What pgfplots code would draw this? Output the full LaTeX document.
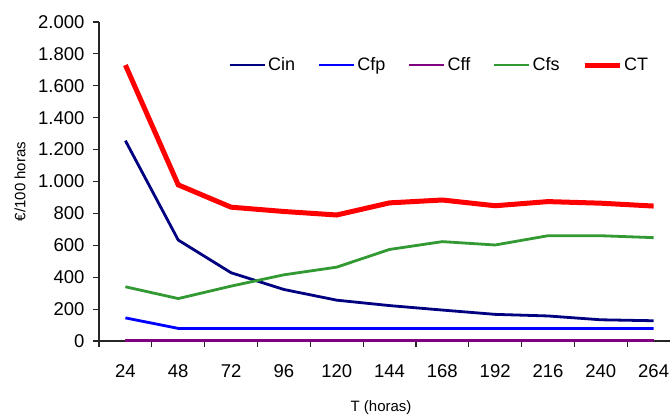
\documentclass[border=0pt]{standalone}
\usepackage{pgfplots}
\pgfplotsset{compat=1.18}
\usepackage{fontspec}
\setmainfont{Liberation Sans}
\definecolor{cin}{RGB}{0,0,128}
\definecolor{cfp}{RGB}{0,0,255}
\definecolor{cff}{RGB}{128,0,128}
\definecolor{cfs}{RGB}{51,153,51}
\definecolor{ct}{RGB}{255,0,0}
\begin{document}
\begin{tikzpicture}
\path[use as bounding box] (-99bp,-77bp) rectangle (571bp,341bp);
\begin{axis}[
  at={(0,0)}, anchor=south west,
  scale only axis, width=571bp, height=319bp,
  xmin=-0.5, xmax=10.31, ymin=0, ymax=2000,
  axis lines*=left,
  axis line style={black!85, line width=1.2bp},
  tick align=outside, major tick length=6bp,
  tick style={black!85, line width=1.2bp},
  xtick={-0.5,0.5,1.5,2.5,3.5,4.5,5.5,6.5,7.5,8.5,9.5},
  xticklabels={24,48,72,96,120,144,168,192,216,240,264},
  xticklabel style={anchor=base, xshift=26.41bp, yshift=-30bp},
  yticklabel style={xshift=-5bp},
  ytick={0,200,...,2000},
  /pgf/number format/assume math mode=true,
  /pgf/number format/1000 sep={.},
  tick label style={font=\fontsize{18.5bp}{21bp}\selectfont},
  xlabel={T (horas)},
  ylabel={€/100 horas},
  label style={font=\fontsize{15bp}{18bp}\selectfont},
  xlabel style={at={(axis description cs:0.494,0)}, anchor=center, yshift=-67bp},
  ylabel style={at={(axis description cs:0,0.5)}, anchor=center, rotate=0, yshift=79bp},
  legend columns=5,
  legend style={draw=none, fill=none, at={(rel axis cs:0.226,0.865)}, anchor=west,
    font=\fontsize{18bp}{21bp}\selectfont, inner sep=0pt,
    /tikz/every even column/.append style={column sep=20.5bp}},
  legend image code/.code={\draw[#1] (0bp,0bp) -- (35bp,0bp);},
  clip=false,
]
\addplot[cin, line width=2.8bp] coordinates {(0,1256)(1,633)(2,428)(3,323)(4,256)(5,222)(6,194)(7,167)(8,157)(9,133)(10,127)};
\addlegendentry{Cin}
\addplot[cfp, line width=2.8bp] coordinates {(0,145)(1,79)(2,79)(3,79)(4,79)(5,79)(6,79)(7,79)(8,79)(9,79)(10,79)};
\addlegendentry{Cfp}
\addplot[cff, line width=2.8bp] coordinates {(0,3)(1,3)(2,3)(3,3)(4,3)(5,3)(6,3)(7,3)(8,3)(9,3)(10,3)};
\addlegendentry{Cff}
\addplot[cfs, line width=2.8bp] coordinates {(0,340)(1,266)(2,344)(3,415)(4,463)(5,574)(6,623)(7,602)(8,660)(9,660)(10,648)};
\addlegendentry{Cfs}
\addplot[ct, line width=5bp] coordinates {(0,1730)(1,979)(2,839)(3,812)(4,790)(5,866)(6,884)(7,848)(8,874)(9,864)(10,846)};
\addlegendentry{CT}
\end{axis}
\end{tikzpicture}
\end{document}
